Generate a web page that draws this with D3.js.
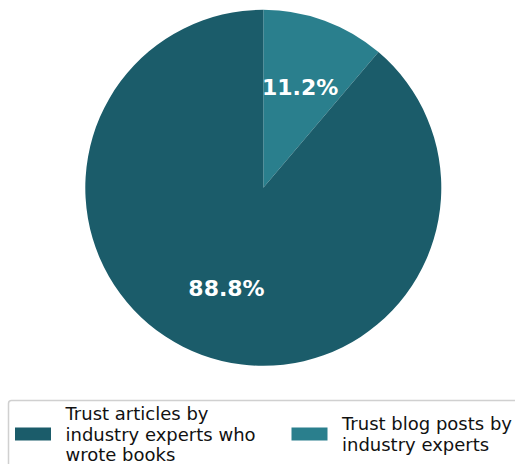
<!DOCTYPE html>
<html>
<head>
<meta charset="utf-8">
<script src="https://cdn.jsdelivr.net/npm/d3@7"></script>
<style>
  html, body { margin: 0; padding: 0; background: #fff; }
  svg { display: block; font-family: "DejaVu Sans", sans-serif; }
</style>
</head>
<body>
<svg id="chart" width="515" height="464"></svg>
<script>
// Share of respondents by trusted source
const categories = [
  "Blog posts by industry experts",
  "Articles by industry experts who wrote books"
];
const values = [11.2, 88.8];
const colors = ["#2a7f8d", "#1b5c6a"];

// Legend entries (wrapped lines) in legend order
const legendLabels = [
  ["Trust articles by", "industry experts who", "wrote books"],
  ["Trust blog posts by", "industry experts"]
];
const legendColors = ["#1b5c6a", "#2a7f8d"];

const svg = d3.select("#chart");
const cx = 263.3, cy = 187.8, radius = 178;

const pie = d3.pie().sort(null).value(d => d);
const arcs = pie(values);
const arc = d3.arc().innerRadius(0).outerRadius(radius);
const labelArc = d3.arc().innerRadius(radius * 0.6).outerRadius(radius * 0.6);

const g = svg.append("g").attr("transform", `translate(${cx},${cy})`);

g.selectAll("path.slice")
  .data(arcs)
  .join("path")
  .attr("class", "slice")
  .attr("d", arc)
  .attr("fill", (d, i) => colors[i]);

g.selectAll("text.pct")
  .data(arcs)
  .join("text")
  .attr("class", "pct")
  .attr("transform", d => `translate(${labelArc.centroid(d)})`)
  .attr("text-anchor", "middle")
  .attr("dominant-baseline", "central")
  .attr("fill", "#ffffff")
  .attr("font-weight", "bold")
  .attr("font-size", 22)
  .text(d => d.data.toFixed(1) + "%");

// Legend frame
const legend = svg.append("g");
legend.append("rect")
  .attr("x", 8.5).attr("y", 400.5)
  .attr("width", 530).attr("height", 80)
  .attr("rx", 3).attr("ry", 3)
  .attr("fill", "#ffffff")
  .attr("stroke", "#d0d0d0")
  .attr("stroke-width", 1.5);

const entryX = [15, 291.5];
const textX = [65.5, 342];
const lineH = 20.2;
const midY = 434;

legendLabels.forEach((lines, i) => {
  legend.append("rect")
    .attr("x", entryX[i]).attr("y", midY - 6.5)
    .attr("width", 36).attr("height", 13)
    .attr("fill", legendColors[i]);
  const t = legend.append("text")
    .attr("font-size", 18)
    .attr("fill", "#111");
  const firstBaseline = midY + 6.5 - (lines.length - 1) / 2 * lineH;
  lines.forEach((ln, j) => {
    t.append("tspan")
      .attr("x", textX[i])
      .attr("y", firstBaseline + j * lineH)
      .text(ln);
  });
});
</script>
</body>
</html>
